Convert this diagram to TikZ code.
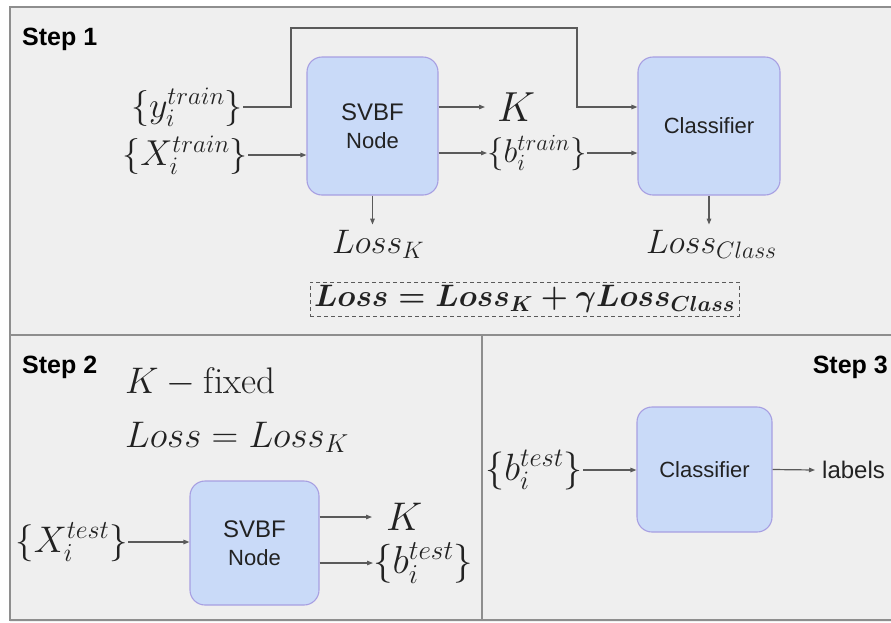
\documentclass[tikz,border=0pt]{standalone}
\usepackage{fix-cm}
\usepackage{amsmath}
\usepackage{fontspec}
\newfontfamily\arial{Liberation Sans}
\usetikzlibrary{arrows.meta,calc}

\definecolor{panel}{HTML}{EFEFEF}
\definecolor{framec}{HTML}{8E8E8E}
\definecolor{wirec}{HTML}{5A5A5A}
\definecolor{boxfill}{HTML}{C9DAF8}
\definecolor{boxline}{HTML}{A79FE2}
\definecolor{ink}{HTML}{222222}

\newcommand\msize[1]{\fontsize{#1}{#1}\selectfont}

\tikzset{
  blockbox/.style={rounded corners=15pt, fill=boxfill, draw=boxline, line width=1.1pt,
    align=center, text=ink, font=\arial\fontsize{22}{28}\selectfont},
  wire/.style={draw=wirec, line width=1.2pt},
  arr/.style={wire, -{Triangle[length=6pt,width=4.5pt]}},
  mathlbl/.style={inner sep=0pt, text=ink},
  steplbl/.style={font=\arial\bfseries\msize{25}, inner sep=0pt, text=black},
  framerule/.style={draw=framec, line width=2pt}
}

\begin{document}
\begin{tikzpicture}[x=1pt,y=-1pt]
\useasboundingbox (0,0) rectangle (891,622);

% page and panel frame
\fill[white] (0,0) rectangle (891,622);
\fill[panel] (10,7) rectangle (891,622);
\draw[framerule] (891,7) -- (10,7) -- (10,620) -- (891,620);
\draw[framerule] (10,335) -- (891,335);
\draw[framerule] (482,335) -- (482,620);

% ---------------- Step 1: training ----------------
\node[steplbl, anchor=base west] (step1) at (22,45) {Step 1};

\node[blockbox, minimum width=131pt, minimum height=138pt] (svbf1) at (372.5,126)
  {{\fontsize{24}{28}\selectfont SVBF}\\Node};
\node[blockbox, minimum width=142pt, minimum height=138pt] (cls1) at (709,126) {Classifier};

\node[mathlbl, anchor=east] (ytr) at (243,107) {\msize{36}$\{y_i^{train}\}$};
\node[mathlbl, anchor=east] (Xtr) at (248,155) {\msize{36}$\{X_i^{train}\}$};
\node[mathlbl, anchor=west, inner xsep=12pt] (K1) at (485,107) {\msize{42}$K$};
\node[mathlbl, anchor=west] (btr) at (487,153) {\msize{33}$\{b_i^{train}\}$};
\node[mathlbl, anchor=base west, inner ysep=5pt] (lossK) at (332,253) {\msize{34}$Loss_K$};
\node[mathlbl, anchor=base west, inner ysep=5pt] (lossC) at (646,253) {\msize{34}$Loss_{Class}$};

\node[draw=wirec, dash pattern=on 4pt off 3pt, line width=0.9pt, inner sep=1pt,
      minimum width=429pt, minimum height=34pt, text=ink] (total) at (524.5,299)
  {\msize{31}$\boldsymbol{Loss = Loss_K + \gamma Loss_{Class}}$};

\coordinate (hop1) at (291,28);
\coordinate (hop2) at (577,28);
\draw[arr] (ytr.east) -| (hop1) -- (hop2) |- (cls1.west |- ytr.east);
\draw[arr] (Xtr.east) -- (Xtr.east -| svbf1.west);
\draw[arr] (svbf1.east |- K1.west) -- (K1.west);
\draw[arr] (svbf1.east |- btr.west) -- (btr.west);
\draw[arr] (btr.east) -- (btr.east -| cls1.west);
\draw[arr] (svbf1.south) -- (svbf1.south |- lossK.north);
\draw[arr] (cls1.south) -- (cls1.south |- lossC.north);

% ---------------- Step 2: encoding test data ----------------
\node[steplbl, anchor=base west] (step2) at (22,373) {Step 2};
\node[mathlbl, anchor=base west] (kfix) at (125,393) {\msize{37}$K - \mathrm{fixed}$};
\node[mathlbl, anchor=base west] (lossonly) at (125,447) {\msize{37}$Loss = Loss_K$};

\node[blockbox, minimum width=129pt, minimum height=124pt] (svbf2) at (254.5,543)
  {{\fontsize{24}{28}\selectfont SVBF}\\Node};
\node[mathlbl, anchor=east] (Xte) at (128,542) {\msize{37}$\{X_i^{test}\}$};
\node[mathlbl, anchor=west, inner xsep=14pt] (K2) at (372,517) {\msize{40}$K$};
\node[mathlbl, anchor=west] (bte) at (373,563) {\msize{39}$\{b_i^{test}\}$};

\draw[arr] (Xte.east) -- (Xte.east -| svbf2.west);
\draw[arr] (svbf2.east |- K2.west) -- (K2.west);
\draw[arr] (svbf2.east |- bte.west) -- (bte.west);

% ---------------- Step 3: classification ----------------
\node[steplbl, anchor=base east] (step3) at (888,373) {Step 3};
\node[blockbox, minimum width=135pt, minimum height=125pt] (cls3) at (704.5,469.5) {Classifier};
\node[mathlbl, anchor=east] (bte3) at (583,470) {\msize{38}$\{b_i^{test}\}$};
\node[anchor=west, inner xsep=7pt, inner ysep=0pt, font=\arial\msize{24}, text=ink] (lbl) at (815,470) {labels};

\draw[arr] (bte3.east) -- (bte3.east -| cls3.west);
\draw[arr] (cls3.east) -- (lbl.west);
\end{tikzpicture}
\end{document}
